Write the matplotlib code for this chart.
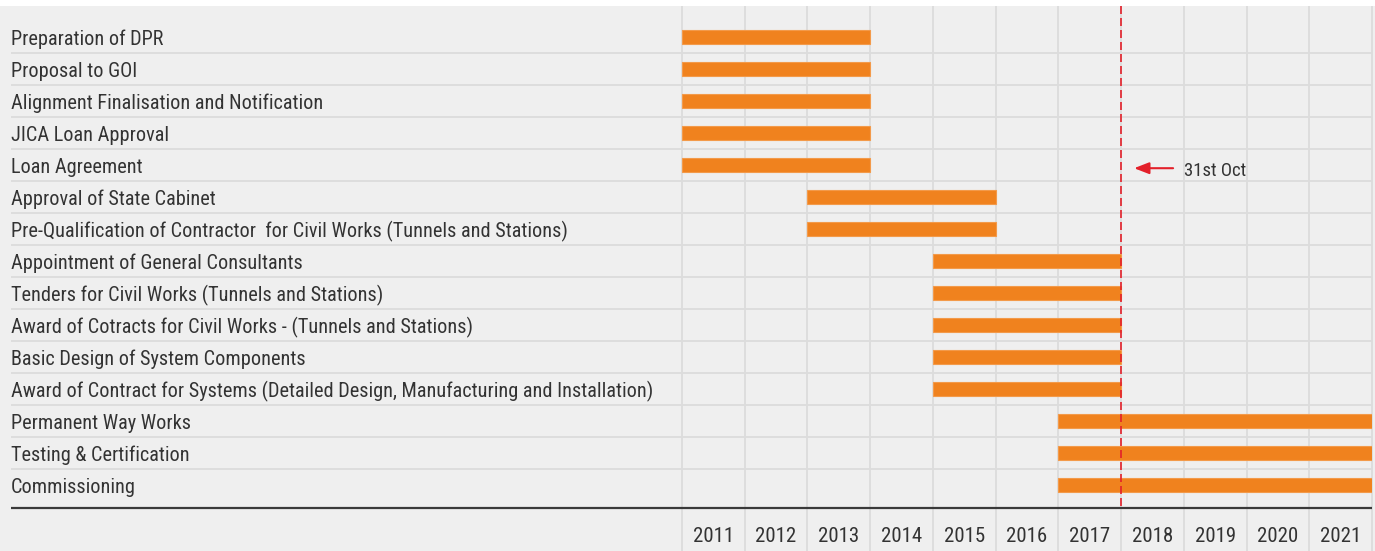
import matplotlib
matplotlib.use("Agg")
import matplotlib.pyplot as plt
from matplotlib.patches import Rectangle

plt.rcParams["font.family"] = ["Roboto Condensed", "Archivo Narrow", "DejaVu Sans"]
plt.rcParams["font.stretch"] = "condensed"

TASKS = [
    "Preparation of DPR",
    "Proposal to GOI",
    "Alignment Finalisation and Notification",
    "JICA Loan Approval",
    "Loan Agreement",
    "Approval of State Cabinet",
    "Pre-Qualification of Contractor  for Civil Works (Tunnels and Stations)",
    "Appointment of General Consultants",
    "Tenders for Civil Works (Tunnels and Stations)",
    "Award of Cotracts for Civil Works - (Tunnels and Stations)",
    "Basic Design of System Components",
    "Award of Contract for Systems (Detailed Design, Manufacturing and Installation)",
    "Permanent Way Works",
    "Testing & Certification",
    "Commissioning",
]
STARTS = [2011, 2011, 2011, 2011, 2011, 2013, 2013, 2015, 2015, 2015, 2015, 2015, 2017, 2017, 2017]
ENDS = [2014, 2014, 2014, 2014, 2014, 2016, 2016, 2018, 2018, 2018, 2018, 2018, 2022, 2022, 2022]
YEARS = list(range(2011, 2022))
STATUS_DATE = 2018.0
STATUS_LABEL = "31st Oct"

BG = "#efefef"
GRID = "#dcdcdc"
BAR = "#f0821e"
TEXT = "#333333"
RED = "#e3202a"

W, H = 1375, 551
fig = plt.figure(figsize=(W / 100, H / 100), dpi=100)
fig.patches.append(Rectangle((0, 0), 1, (H - 6) / H, transform=fig.transFigure,
                             facecolor=BG, edgecolor="none", zorder=-10))

# axes spans from label column (x=11) to right edge of 2021 column (x=1372)
ax = fig.add_axes([11 / W, 0, (1372 - 11) / W, (H - 6) / H])
ax.set_facecolor("none")
px_per_year = (1372 - 682) / 11
ax.set_xlim(2011 - (682 - 11) / px_per_year, 2022)
top = -(37 - 6) / 32
bottom = (551 - 37) / 32
ax.set_ylim(bottom, top)
ax.axis("off")

n = len(TASKS)
# row separators
for i in range(n - 1):
    ax.axhline(i + 0.5, color=GRID, lw=1.3, zorder=1)
# year column lines
ax.vlines(YEARS + [2022], top, bottom, color=GRID, lw=1.3, zorder=1, clip_on=False)

# bars
y = list(range(n))
ax.barh(y, [e - s for s, e in zip(STARTS, ENDS)], left=STARTS, height=0.41,
        color=BAR, edgecolor="#f39a4a", lw=0.8, zorder=3)

x0 = ax.get_xlim()[0]
for i, t in enumerate(TASKS):
    ax.text(x0, i + 0.25, t, ha="left", va="baseline", fontsize=14.6, color=TEXT, zorder=4)

# baseline
base_y = (507.5 - 37) / 32
ax.axhline(base_y, color="#3a3a3a", lw=1.6, zorder=4)

for yr in YEARS:
    ax.text(yr + 0.5, 15.77, str(yr), ha="center", va="baseline", fontsize=15, color=TEXT)

# status line
ax.vlines(STATUS_DATE, top, base_y, color=RED, lw=1.2, linestyles=(0, (4.8, 2.4)), zorder=5)
ay = 4.1
ax.annotate("", xy=(STATUS_DATE + 13 / px_per_year, ay),
            xytext=(STATUS_DATE + 52 / px_per_year, ay),
            arrowprops=dict(arrowstyle="-|>,head_length=0.9,head_width=0.35",
                            color=RED, lw=1.5, shrinkA=0, shrinkB=0), zorder=6)
ax.text(STATUS_DATE + 63 / px_per_year, ay + 0.25, STATUS_LABEL, ha="left", va="baseline",
        fontsize=13.5, color=TEXT)

fig.savefig("out.png", dpi=100)
